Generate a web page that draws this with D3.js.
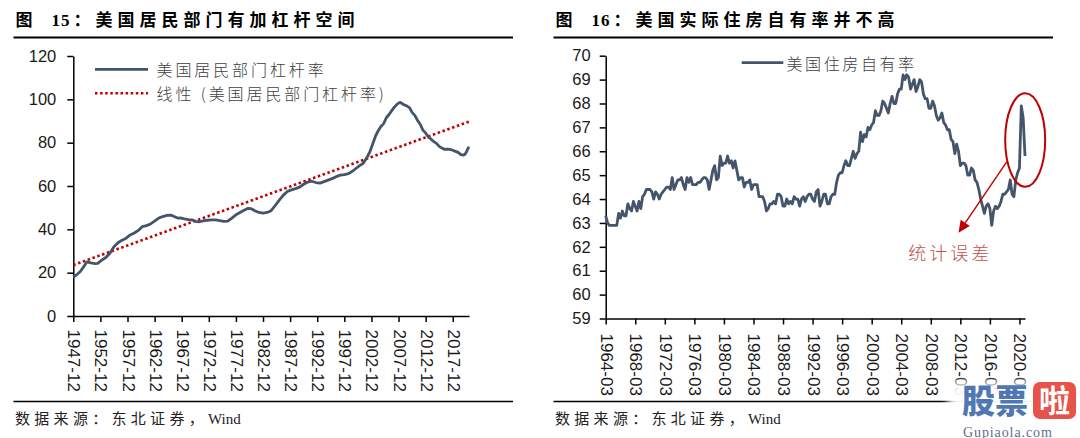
<!DOCTYPE html>
<html><head><meta charset="utf-8">
<script src="https://cdn.jsdelivr.net/npm/d3@7/dist/d3.min.js"></script>
<style>
html,body{margin:0;padding:0;background:#fff;}
svg{display:block;}
</style></head><body>
<svg id="c" width="1080" height="438"></svg>
<script>
// ---------------- DATA ----------------
const titleNums = ["15", "16"];
const titleTexts = ["美国居民部门有加杠杆空间", "美国实际住房自有率并不高"];
const sourceCJK = "数据来源：东北证券，";
const sourceLatin = "Wind";

// Chart 15: US household leverage ratio (%), date -> value
const levName = "美国居民部门杠杆率";
const trendName = "线性 (美国居民部门杠杆率)";
const levDates = ["1947-12","1948-06","1949-03","1949-12","1950-06","1951-03","1951-12","1952-06","1953-03","1953-12","1954-09","1955-06","1956-03","1956-12","1957-09","1958-06","1959-03","1959-12","1960-09","1961-06","1962-03","1962-12","1963-09","1964-06","1965-03","1965-12","1966-06","1967-03","1967-09","1968-06","1969-03","1969-12","1970-06","1971-03","1971-12","1972-09","1973-06","1974-03","1974-12","1975-09","1976-06","1977-03","1977-12","1978-09","1979-06","1980-03","1980-09","1981-06","1982-03","1982-12","1983-09","1984-06","1985-03","1985-12","1986-09","1987-06","1988-03","1988-12","1989-09","1990-06","1991-03","1991-12","1992-09","1993-06","1994-03","1994-12","1995-09","1996-06","1997-03","1997-12","1998-09","1999-06","2000-03","2000-09","2001-06","2002-03","2002-09","2003-03","2003-09","2004-03","2004-09","2005-03","2005-09","2006-03","2006-09","2007-03","2007-09","2008-03","2008-06","2008-12","2009-06","2009-12","2010-06","2010-12","2011-06","2011-12","2012-06","2012-12","2013-06","2013-12","2014-06","2014-12","2015-06","2015-12","2016-06","2016-12","2017-06","2017-12","2018-06","2018-12","2019-06","2019-12","2020-03","2020-06","2020-09","2020-12"];
const levValues = [18.0,18.8,20.4,23.0,25.0,24.5,24.2,24.3,25.8,27.0,29.0,32.0,33.8,35.0,35.9,37.4,38.3,39.5,41.3,41.7,42.5,43.8,45.2,45.9,46.4,46.6,46.0,45.2,45.3,44.8,44.5,44.3,43.7,43.5,43.9,44.2,44.4,44.4,44.0,43.7,43.8,45.2,46.7,47.8,48.8,49.7,49.6,48.6,47.8,47.5,47.8,48.6,51.0,53.5,55.8,57.5,58.2,58.8,59.5,60.8,61.8,62.2,61.6,61.3,62.0,62.7,63.4,64.3,65.0,65.3,65.7,66.8,68.3,69.3,70.5,73.5,76.0,79.5,83.0,85.5,87.5,88.8,91.5,93.0,94.8,96.5,97.8,98.6,98.3,97.5,97.0,96.2,94.0,92.6,90.3,88.5,85.8,84.5,82.6,81.6,80.5,79.7,78.3,77.5,76.9,77.0,76.9,76.5,76.0,75.5,74.5,74.3,74.6,75.6,77.0,78.1];
const trendDates = ["1947-12", "2020-12"];
const trendValues = [23.5, 89.7];
const levYTicks = [0, 20, 40, 60, 80, 100, 120];
const levXLabels = ["1947-12","1952-12","1957-12","1962-12","1967-12","1972-12","1977-12","1982-12","1987-12","1992-12","1997-12","2002-12","2007-12","2012-12","2017-12"];

// Chart 16: US homeownership rate (%), quarterly from 1964-03 to 2020-12
const ownName = "美国住房自有率";
const ownStart = "1964-03";
const ownValues = [
63.3,63.0,62.9,62.9, 62.9,62.9,62.9,63.4, 63.2,63.5,63.3,63.3, 63.8,63.6,63.5,63.9,
63.7,63.5,63.9,63.6, 64.1,64.2,64.4,64.4, 64.4,64.3,64.0,64.3, 64.2,64.0,64.2,64.3,
64.4,64.5,64.5,64.4, 64.9,64.4,64.6,64.8, 64.8,64.9,64.6,64.4, 64.9,64.7,64.9,64.6,
64.6,64.6,64.7,64.7, 64.8,64.9,64.9,64.8, 64.4,64.8,65.2,65.4, 64.8,64.9,65.8,65.4,
65.5,65.5,65.8,65.5, 65.6,65.3,65.6,65.2, 64.8,64.9,64.9,64.5, 64.7,64.7,64.8,64.4,
64.6,64.6,64.6,64.1, 64.1,64.1,63.9,63.5, 63.6,63.8,63.8,63.9, 63.8,64.2,64.2,64.1,
63.7,63.7,64.0,63.8, 63.9,63.8,64.1,64.0, 64.0,63.7,64.0,64.1, 63.9,64.1,64.2,64.2,
64.0,63.9,64.3,64.4, 63.7,63.9,64.2,64.2, 63.8,63.8,64.1,64.2, 64.2,64.7,65.0,65.1,
65.1,65.4,65.6,65.4, 65.4,65.7,66.0,65.7, 65.9,66.0,66.8,66.4, 66.7,66.6,67.0,66.9,
67.1,67.2,67.7,67.5, 67.5,67.7,68.1,68.0, 67.8,67.6,68.0,68.3, 68.0,68.0,68.4,68.6,
68.6,69.2,69.0,69.2, 69.1,68.6,68.8,69.0, 68.5,68.7,69.0,68.9, 68.4,68.2,68.2,67.8,
67.8,68.1,67.9,67.5, 67.3,67.4,67.6,67.2, 67.1,66.9,66.9,66.5, 66.4,65.9,66.3,66.0,
65.4,65.5,65.5,65.4, 65.0,65.0,65.3,65.2, 64.8,64.7,64.4,64.0, 63.7,63.4,63.7,63.8,
63.6,62.9,63.5,63.7, 63.6,63.7,63.9,64.2, 64.2,64.3,64.4,64.8, 64.2,64.1,64.8,65.1,
65.3,67.9,67.4,65.8];
const ownYTicks = [59,60,61,62,63,64,65,66,67,68,69,70];
const ownXLabels = ["1964-03","1968-03","1972-03","1976-03","1980-03","1984-03","1988-03","1992-03","1996-03","2000-03","2004-03","2008-03","2012-03","2016-03","2020-03"];
const annotText = "统计误差";
// annotation anchors in data units: [quarter index, value]
const annotEllipse = [227.1, 66.47];
const annotArrowFrom = [217.2, 65.57];
const annotArrowTo = [191.0, 62.59];
const annotTextAt = [163.8, 61.45];

// ---------------- HELPERS ----------------
const LINE = "#44546a", RED = "#c00000";
const TICKFONT = "'Liberation Sans', Arial, sans-serif";
const CJK = "'Noto Sans CJK SC', sans-serif";
const SERIFCJK = "'Liberation Serif', 'Noto Sans CJK SC', serif";
function qIdx(s, base) {
  const [y, m] = s.split("-").map(Number);
  const [by, bm] = base.split("-").map(Number);
  return (y - by) * 4 + (m - bm) / 3;
}
const svg = d3.select("#c");

// frame (title, rules, source) for each panel
[0, 540].forEach((ox, k) => {
  const g = svg.append("g").attr("transform", `translate(${ox},0)`);
  const t = g.append("text").attr("y", 26).attr("font-family", SERIFCJK)
    .attr("font-weight", "bold").attr("font-size", 17).attr("fill", "#000");
  t.append("tspan").attr("x", 15.5).text("图");
  t.append("tspan").attr("x", 51.5).attr("letter-spacing", 1).text(titleNums[k]);
  t.append("tspan").attr("x", 73.5).attr("letter-spacing", 5).text("：" + titleTexts[k]);
  g.append("line").attr("x1", 13.5).attr("x2", 513).attr("y1", 37.5).attr("y2", 37.5)
    .attr("stroke", "#000").attr("stroke-width", 2);
  g.append("line").attr("x1", 13.5).attr("x2", 513).attr("y1", 401.5).attr("y2", 401.5)
    .attr("stroke", "#000").attr("stroke-width", 1.5);
  const s = g.append("text").attr("x", 15).attr("y", 424).attr("font-family", SERIFCJK)
    .attr("font-size", 15).attr("fill", "#222");
  s.append("tspan").attr("letter-spacing", 4.3).text(sourceCJK);
  s.append("tspan").attr("letter-spacing", 0).text(sourceLatin);
});

function styleAxis(g) {
  g.selectAll("path,line").attr("stroke", "#000").attr("stroke-width", 1.5);
  g.selectAll("text").attr("font-family", TICKFONT).attr("fill", "#1a1a1a");
}

// ---------------- CHART 15 ----------------
{
  const base = "1947-12";
  const x = d3.scaleLinear().domain([0, qIdx("2020-12", base)]).range([73.3, 469]);
  const y = d3.scaleLinear().domain([0, 120]).range([316, 56]);
  const yAx = svg.append("g").attr("transform", `translate(${x.range()[0]},0)`)
    .call(d3.axisLeft(y).tickValues(levYTicks).tickSize(6).tickSizeOuter(0).tickPadding(11));
  styleAxis(yAx); yAx.selectAll("text").attr("font-size", 16.5);
  const xAx = svg.append("g").attr("transform", `translate(0,${y(0)})`)
    .call(d3.axisBottom(x).tickValues(levXLabels.map(d => qIdx(d, base)))
      .tickFormat((d, i) => levXLabels[i]).tickSize(6).tickSizeOuter(0));
  styleAxis(xAx);
  xAx.selectAll("text").attr("font-size", 17).attr("text-anchor", "start")
    .attr("dominant-baseline", "central").attr("dy", null)
    .attr("transform", "translate(0,13.5) rotate(90)").attr("y", 0).attr("x", 0);

  const line = d3.line().x(d => x(qIdx(d[0], base))).y(d => y(d[1]));
  svg.append("path").datum(trendDates.map((d, i) => [d, trendValues[i]]))
    .attr("d", line).attr("fill", "none").attr("stroke", RED)
    .attr("stroke-width", 2.6).attr("stroke-dasharray", "2.5 2.6");
  svg.append("path").datum(levDates.map((d, i) => [d, levValues[i]]))
    .attr("d", line).attr("fill", "none").attr("stroke", LINE)
    .attr("stroke-width", 2.8).attr("stroke-linejoin", "round");

  // legend
  const lg = svg.append("g");
  lg.append("line").attr("x1", 95).attr("x2", 148).attr("y1", 69.3).attr("y2", 69.3)
    .attr("stroke", LINE).attr("stroke-width", 2.8);
  lg.append("line").attr("x1", 95).attr("x2", 148).attr("y1", 93.3).attr("y2", 93.3)
    .attr("stroke", RED).attr("stroke-width", 2.6).attr("stroke-dasharray", "2.5 2.6");
  lg.append("text").attr("x", 156.5).attr("y", 69.3).text(levName);
  lg.append("text").attr("x", 156.5).attr("y", 93.3).text(trendName);
  lg.selectAll("text").attr("font-family", CJK).attr("font-weight", 300)
    .attr("font-size", 16).attr("letter-spacing", 2.9).attr("fill", "#404040")
    .attr("dominant-baseline", "central");
}

// ---------------- CHART 16 ----------------
{
  const n = ownValues.length;
  const x = d3.scaleLinear().domain([0, n - 1]).range([605.7, 1025]);
  const y = d3.scaleLinear().domain([59, 70]).range([318.5, 55.7]);
  const yAx = svg.append("g").attr("transform", `translate(${x.range()[0]},0)`)
    .call(d3.axisLeft(y).tickValues(ownYTicks).tickSize(6).tickSizeOuter(0).tickPadding(9));
  styleAxis(yAx); yAx.selectAll("text").attr("font-size", 16.5);
  const xAx = svg.append("g").attr("transform", `translate(0,${y(59)})`)
    .call(d3.axisBottom(x).tickValues(ownXLabels.map(d => qIdx(d, ownStart)))
      .tickFormat((d, i) => ownXLabels[i]).tickSize(6).tickSizeOuter(0));
  styleAxis(xAx);
  xAx.selectAll("text").attr("font-size", 17).attr("text-anchor", "start")
    .attr("dominant-baseline", "central").attr("dy", null)
    .attr("transform", "translate(0,15) rotate(90)").attr("y", 0).attr("x", 0);

  const line = d3.line().x((d, i) => x(i)).y(d => y(d));
  svg.append("path").datum(ownValues).attr("d", line).attr("fill", "none")
    .attr("stroke", LINE).attr("stroke-width", 2.8).attr("stroke-linejoin", "round");

  // legend
  svg.append("line").attr("x1", 741.7).attr("x2", 783.3).attr("y1", 62.7).attr("y2", 62.7)
    .attr("stroke", LINE).attr("stroke-width", 2.8);
  svg.append("text").attr("x", 786.5).attr("y", 62.7).text(ownName)
    .attr("font-family", CJK).attr("font-weight", 300).attr("font-size", 16)
    .attr("letter-spacing", 2.6).attr("fill", "#404040").attr("dominant-baseline", "central");

  // annotation
  svg.append("ellipse").attr("cx", x(annotEllipse[0])).attr("cy", y(annotEllipse[1]))
    .attr("rx", 20).attr("ry", 46.7).attr("fill", "none").attr("stroke", RED).attr("stroke-width", 2);
  const x1 = x(annotArrowFrom[0]), y1 = y(annotArrowFrom[1]);
  const x2 = x(annotArrowTo[0]), y2 = y(annotArrowTo[1]);
  const ang = Math.atan2(y2 - y1, x2 - x1), L = 12, Wd = 5.5;
  const bx = x2 - L * Math.cos(ang), by = y2 - L * Math.sin(ang);
  svg.append("line").attr("x1", x1).attr("y1", y1).attr("x2", bx).attr("y2", by)
    .attr("stroke", RED).attr("stroke-width", 1.4);
  svg.append("path").attr("fill", RED).attr("d",
    `M${x2},${y2}L${bx + Wd * Math.sin(ang)},${by - Wd * Math.cos(ang)}L${bx - Wd * Math.sin(ang)},${by + Wd * Math.cos(ang)}Z`);
  svg.append("text").attr("x", x(annotTextAt[0])).attr("y", y(annotTextAt[1])).text(annotText)
    .attr("font-family", CJK).attr("font-weight", 300).attr("font-size", 18)
    .attr("letter-spacing", 3).attr("fill", "#c0504d");
}

// ---------------- WATERMARK ----------------
{
  const defs = svg.append("defs");
  defs.append("filter").attr("id", "blur").append("feGaussianBlur").attr("stdDeviation", 4);
  const wm = svg.append("g");
  wm.append("rect").attr("x", 948).attr("y", 382).attr("width", 140).attr("height", 60)
    .attr("fill", "#fff").attr("opacity", 0.95).attr("filter", "url(#blur)");
  wm.append("text").attr("x", 962).attr("y", 413).text("股票")
    .attr("font-family", CJK).attr("font-weight", 900).attr("font-size", 33)
    .attr("fill", "#4f78b3");
  wm.append("rect").attr("x", 1033).attr("y", 382).attr("width", 43).attr("height", 37)
    .attr("rx", 7).attr("fill", "#e5534b");
  wm.append("text").attr("x", 1054.5).attr("y", 412).attr("text-anchor", "middle").text("啦")
    .attr("font-family", CJK).attr("font-weight", 700).attr("font-size", 31).attr("fill", "#fff");
  wm.append("text").attr("x", 963).attr("y", 436.5).text("Gupiaola.com")
    .attr("font-family", "'Liberation Serif', serif").attr("font-size", 14)
    .attr("letter-spacing", 0.9).attr("fill", "#5b6f8e");
}
</script>
</body></html>
